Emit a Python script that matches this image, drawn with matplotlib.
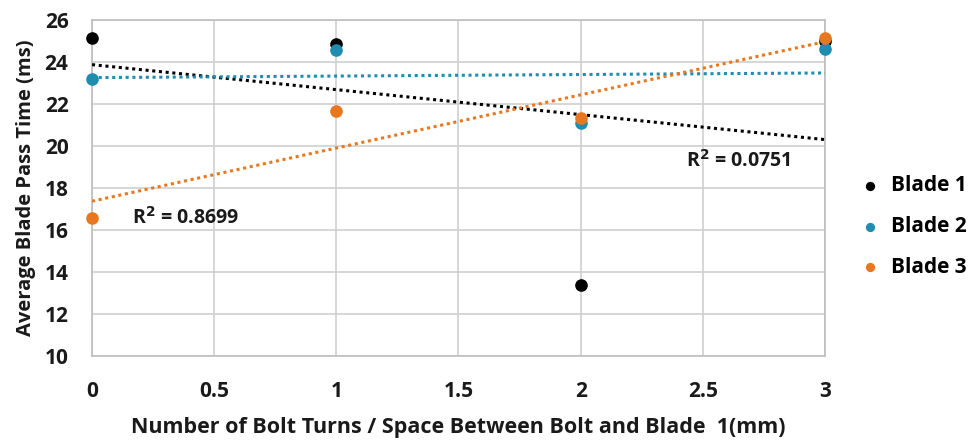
import numpy as np
import matplotlib.pyplot as plt

plt.rcParams['font.family'] = ['Open Sans', 'DejaVu Sans']
plt.rcParams['font.weight'] = 'bold'

# bolt turns and measured pass times for each blade
turns = np.array([0, 1, 2, 3])
blade1 = np.array([25.14, 24.88, 13.38, 25.0])
blade2 = np.array([23.22, 24.57, 21.11, 24.62])
blade3 = np.array([16.57, 21.67, 21.33, 25.14])

names = ['Blade 1', 'Blade 2', 'Blade 3']
colors = ['#000000', '#1f8db0', '#e8771f']
r2_labels = {'Blade 1': 'R$^2$ = 0.0751', 'Blade 3': 'R$^2$ = 0.8699'}

fig = plt.figure(figsize=(9.72, 4.43), dpi=100)
ax = fig.add_axes([0.0947, 0.197, 0.754, 0.757])

# points plus a dotted linear trendline per blade
xx = np.array([0, 3])
for y, name, c in zip([blade1, blade2, blade3], names, colors):
    ax.scatter(turns, y, s=65, color=c, zorder=4, label=name, clip_on=False)
    m, b = np.polyfit(turns, y, 1)
    ax.plot(xx, m*xx+b, ls=(0, (1, 1.2)), lw=2.2, color=c, zorder=3)

ax.text(0.165, 16.57, r2_labels['Blade 3'], fontsize=14, fontweight='bold',
        va='center', color='#1a1a1a')
ax.text(2.43, 19.3, r2_labels['Blade 1'], fontsize=14, fontweight='bold',
        va='center', color='#1a1a1a')

ax.set_xlim(0, 3)
ax.set_ylim(10, 26)
ax.set_xticks(np.arange(0, 3.01, 0.5))
ax.set_xticklabels(['0', '0.5', '1', '1.5', '2', '2.5', '3'])
ax.set_yticks(np.arange(10, 27, 2))
ax.grid(True, color='#cfcfcf', lw=1.2)
ax.set_axisbelow(True)
for s in ax.spines.values():
    s.set_color('#bdbdbd')
    s.set_linewidth(1.2)
ax.tick_params(length=0, labelsize=15, colors='#1a1a1a')
ax.tick_params(axis='y', pad=17)
ax.tick_params(axis='x', pad=18)

ax.set_xlabel('Number of Bolt Turns / Space Between Bolt and Blade  1(mm)',
              fontsize=15.5, fontweight='bold', labelpad=11, color='#1a1a1a')
ax.set_ylabel('Average Blade Pass Time (ms)', fontsize=14.5,
              fontweight='bold', labelpad=6, color='#1a1a1a')

ax.legend(loc='center left', bbox_to_anchor=(1.008, 0.385), frameon=False,
          fontsize=15, handletextpad=0.0, labelspacing=0.95, markerscale=0.7)

fig.savefig('out.png', dpi=100)
